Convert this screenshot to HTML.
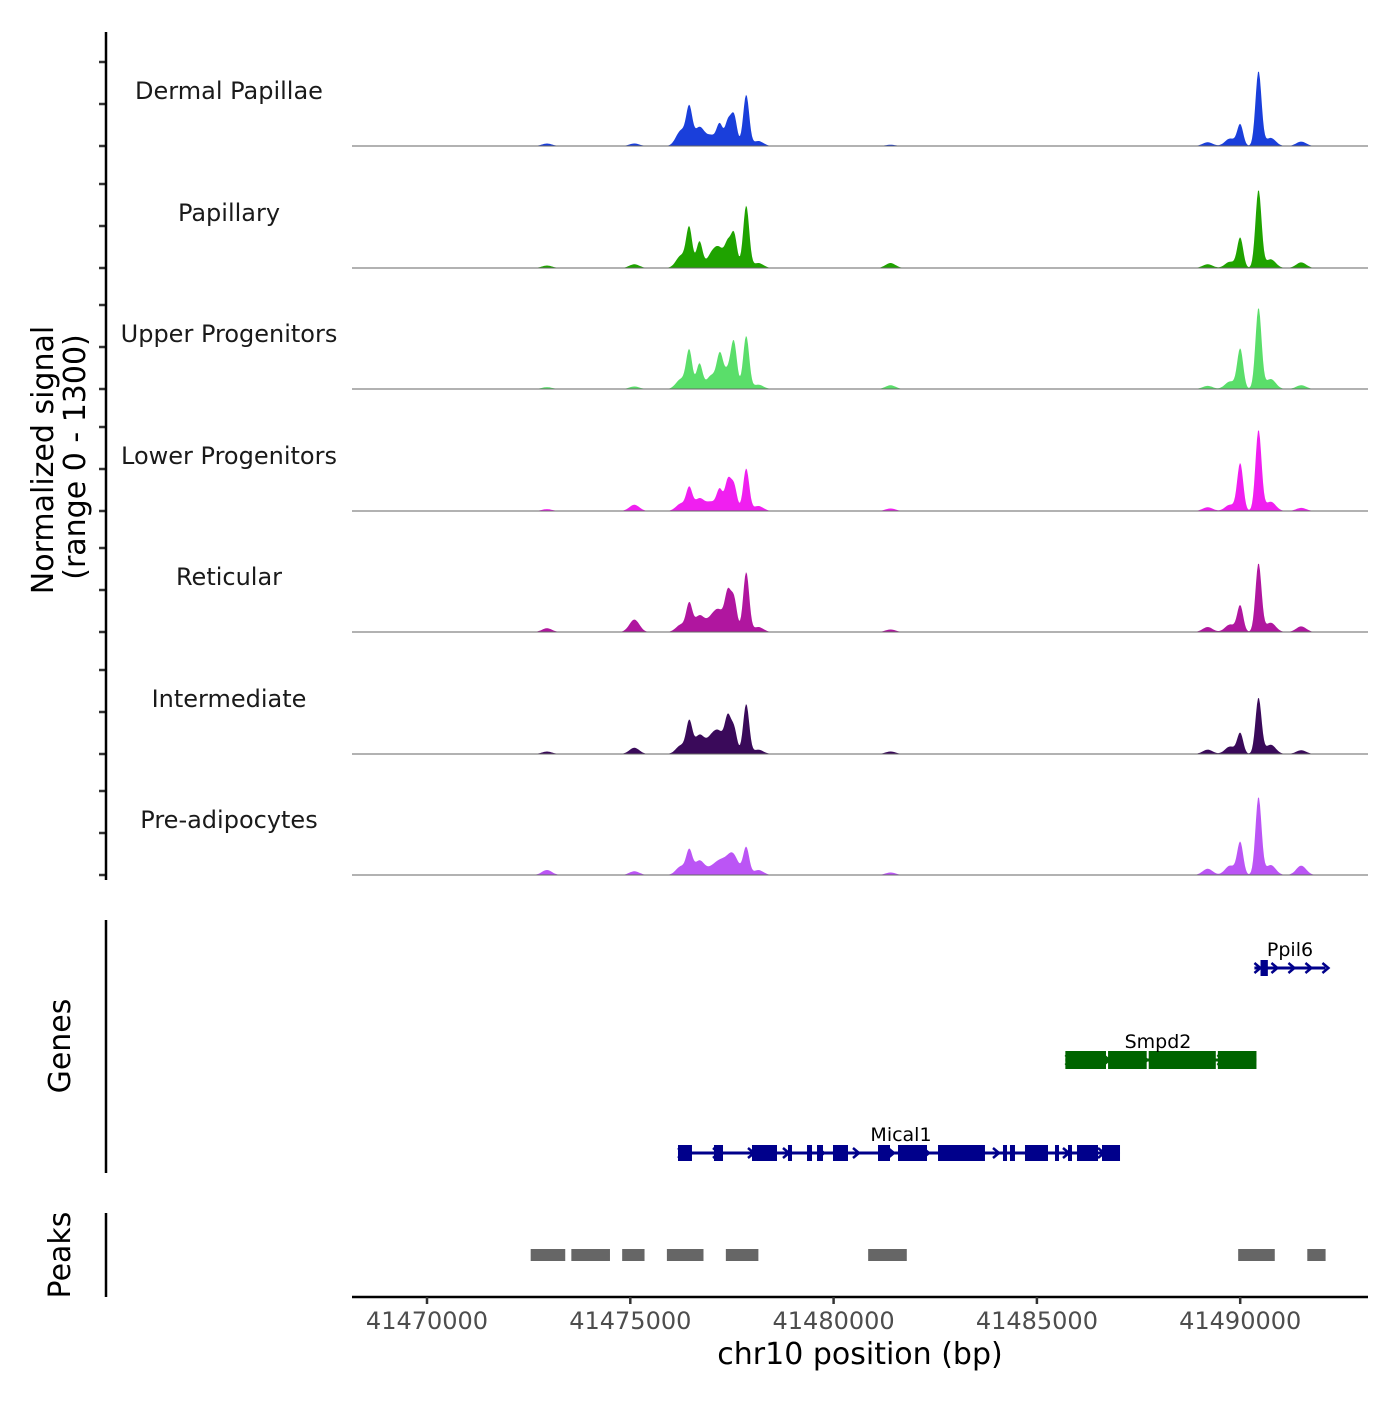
<!DOCTYPE html>
<html><head><meta charset="utf-8"><style>
body{margin:0;background:#fff;font-family:"Liberation Sans","DejaVu Sans",sans-serif}
svg text{font-family:"DejaVu Sans","Liberation Sans",sans-serif}
</style></head><body>
<svg id="c" width="1400" height="1400" viewBox="0 0 1400 1400"></svg>
<script>
const trackNames=["Dermal Papillae","Papillary","Upper Progenitors","Lower Progenitors","Reticular","Intermediate","Pre-adipocytes"];
const trackColors=["#1a3fdb","#1fa300","#5ade6a","#f01ff0","#b0169f","#3a0a5a","#bb55f5"];
// peak positions in bp
const peakPos=[41472950,41475100,41476250,41476450,41476700,41477000,41477200,41477400,41477550,41477850,41478150,41481400,41489200,41489750,41490000,41490450,41490750,41491500];
// peak heights (signal units, 0-1300) per track
const h0=[40,40,250,560,300,160,320,380,480,820,80,20,60,120,340,1200,130,70];
const h1=[40,60,200,620,420,200,280,330,540,1000,80,80,60,100,480,1250,140,90];
const h2=[30,40,160,600,400,220,460,300,640,850,70,60,50,120,640,1300,160,60];
const h3=[30,100,120,340,200,140,320,480,400,680,80,40,60,100,760,1300,150,50];
const h4=[60,200,120,420,260,200,300,560,520,960,80,40,80,120,420,1100,150,90];
const h5=[40,100,140,480,300,240,300,520,400,800,70,40,70,120,330,900,150,60];
const h6=[80,60,140,360,230,100,180,160,260,440,80,40,100,150,520,1250,160,150];
const heights=[h0,h1,h2,h3,h4,h5,h6];
const xTicks=[41470000,41475000,41480000,41485000,41490000];
const peakRegions=[[41472550,41473400],[41473550,41474500],[41474800,41475350],[41475900,41476800],[41477350,41478150],[41480850,41481800],[41489950,41490850],[41491650,41492100]];
const micalExons=[[41476173,41476517],[41477058,41477280],[41477993,41478608],[41478878,41478977],[41479346,41479469],[41479592,41479739],[41479985,41480354],[41481092,41481387],[41481584,41482297],[41482568,41483723],[41484166,41484265],[41484338,41484461],[41484707,41485273],[41485445,41485519],[41485765,41485863],[41485986,41486503],[41486601,41487044]];
const smpdExons=[[41485700,41486700],[41486750,41487700],[41487750,41489400],[41489450,41490400]];
const ppilExons=[[41490500,41490680]];

const svg=document.getElementById('c');const NS='http://www.w3.org/2000/svg';
function el(t,a,p){const e=document.createElementNS(NS,t);for(const k in a)e.setAttribute(k,a[k]);(p||svg).appendChild(e);return e;}
const X=bp=>427+(bp-41470000)*203.3/5000;
const bases=[146,268,389,511,632,754,875];
const Y=(v,b)=>b-v*81/1300;
trackNames.forEach((nm,t)=>{
  const b=bases[t];
  const g=el('g',{});
  
  
  let d='M352,'+b;
  const hs=heights[t];
  for(let px=352;px<=1325;px+=1){
    let v=0;
    peakPos.forEach((p,i)=>{const dx=px-X(p);const s=(hs[i]>300?3:5);v+=hs[i]*Math.exp(-dx*dx/(2*s*s));});
    d+=' L'+px+','+Y(Math.min(v,1300),b).toFixed(1);
  }
  d+=' L1325,'+b+' Z';
  const a=el('path',{d:d,fill:trackColors[t]},g);
  
  
  const bl=el('line',{x1:352,x2:1368,y1:b,y2:b,stroke:'#666','stroke-width':1},g);
  
  
  const lb=el('text',{x:229,y:b-47,'text-anchor':'middle','font-size':24,fill:'#1a1a1a'},g);
  lb.textContent=nm;
  
  
  [0,42,84].forEach(o=>{const tk=el('line',{x1:99,x2:106,y1:b-o,y2:b-o,stroke:'#333','stroke-width':2.5},g);
    
    });
});
let ax=el('line',{x1:106,x2:106,y1:32,y2:880,stroke:'#000','stroke-width':2.5});

let yt=el('text',{transform:'translate(53,460) rotate(-90)','text-anchor':'middle','font-size':30,fill:'#000'});
yt.textContent='Normalized signal';
yt=el('text',{transform:'translate(85,457) rotate(-90)','text-anchor':'middle','font-size':30,fill:'#000'});
yt.textContent='(range 0 - 1300)';
ax=el('line',{x1:106,x2:106,y1:920,y2:1173,stroke:'#000','stroke-width':2.5});

yt=el('text',{transform:'translate(70,1046) rotate(-90)','text-anchor':'middle','font-size':30,fill:'#000'});
yt.textContent='Genes';
function gene(name,s,e,y,col,exons,lx,step,h){
  const g=el('g',{});
  
  
  el('line',{x1:X(s),x2:X(e),y1:y,y2:y,stroke:col,'stroke-width':3},g);
  exons.forEach(ex=>el('rect',{x:X(ex[0]),y:y-h/2,width:Math.max(4,X(ex[1])-X(ex[0])),height:h,fill:col},g));
  for(let px=X(s)+4;px<X(e)+2;px+=step){el('path',{d:`M${px-4},${y-5} L${px+2},${y} L${px-4},${y+5}`,stroke:col,'stroke-width':2.5,fill:'none'},g);}
  const t=el('text',{x:lx,y:y-12,'text-anchor':'middle','font-size':19,fill:'#000'},g);t.textContent=name;
}
gene('Ppil6',41490350,41492100,968,'#00008b',ppilExons,1290,17,16);
gene('Smpd2',41485700,41490400,1060,'#006400',smpdExons,1158,38,18);
gene('Mical1',41476173,41487044,1153,'#00008b',micalExons,901,35,16);
ax=el('line',{x1:106,x2:106,y1:1213,y2:1297,stroke:'#000','stroke-width':2.5});

yt=el('text',{transform:'translate(70,1255) rotate(-90)','text-anchor':'middle','font-size':30,fill:'#000'});
yt.textContent='Peaks';
peakRegions.forEach(p=>{const r=el('rect',{x:X(p[0]),y:1249,width:X(p[1])-X(p[0]),height:12,fill:'#666'});
  });
ax=el('line',{x1:352,x2:1368,y1:1297,y2:1297,stroke:'#000','stroke-width':2.5});

xTicks.forEach(v=>{
  const tk=el('line',{x1:X(v),x2:X(v),y1:1297,y2:1304,stroke:'#333','stroke-width':2.5});
  
  const t=el('text',{x:X(v),y:1329,'text-anchor':'middle','font-size':24,fill:'#4d4d4d'});
  t.textContent=v;
});
yt=el('text',{x:860,y:1364,'text-anchor':'middle','font-size':30,fill:'#000'});
yt.textContent='chr10 position (bp)';
</script>
</body></html>
